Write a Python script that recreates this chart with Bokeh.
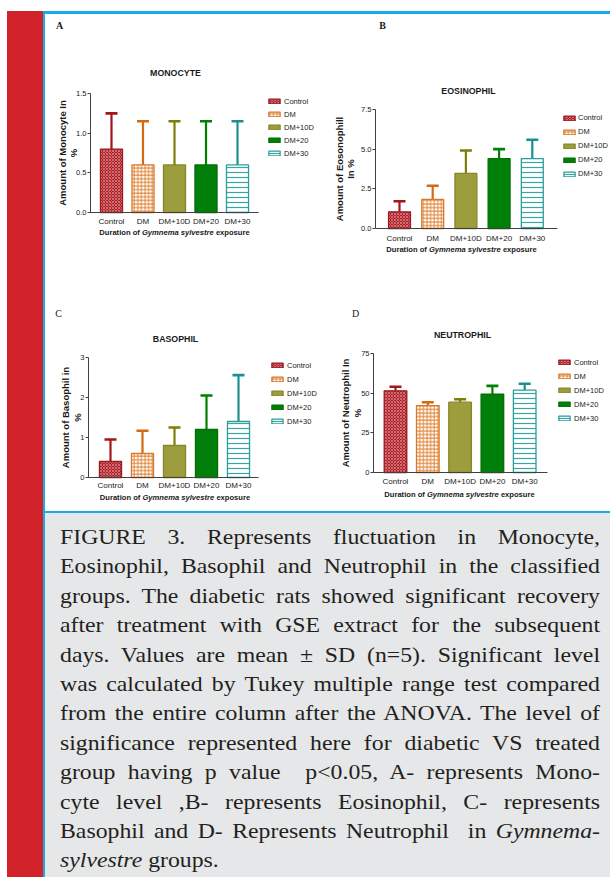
from bokeh.plotting import figure
from bokeh.models import (ColumnDataSource, Range1d, FixedTicker, Whisker, TeeHead,
                          Legend, LegendItem, Label, Div)
from bokeh.layouts import row, column
from bokeh.embed import file_html
from bokeh.resources import INLINE

# ---------------- data ----------------
groups = ["Control", "DM", "DM+10D", "DM+20", "DM+30"]

monocyte_mean = [0.80, 0.60, 0.60, 0.60, 0.60]
monocyte_upper = [1.25, 1.15, 1.15, 1.15, 1.15]

eosinophil_mean = [1.05, 1.83, 3.47, 4.41, 4.41]
eosinophil_upper = [1.72, 2.69, 4.92, 5.00, 5.59]

basophil_mean = [0.40, 0.60, 0.80, 1.20, 1.40]
basophil_upper = [0.95, 1.17, 1.25, 2.05, 2.56]

neutrophil_mean = [51.5, 42.2, 44.3, 49.4, 51.9]
neutrophil_upper = [54.0, 44.3, 46.2, 54.6, 55.9]

monocyte_ticks = [0, 0.5, 1.0, 1.5]
monocyte_tick_labels = ["0.0", "0.5", "1.0", "1.5"]
eosinophil_ticks = [0, 2.5, 5.0, 7.5]
eosinophil_tick_labels = ["0.0", "2.5", "5.0", "7.5"]
basophil_ticks = [0, 1, 2, 3]
basophil_tick_labels = ["0", "1", "2", "3"]
neutrophil_ticks = [0, 25, 50, 75]
neutrophil_tick_labels = ["0", "25", "50", "75"]

caption_lines = [
    "FIGURE 3. Represents fluctuation in Monocyte,",
    "Eosinophil, Basophil and Neutrophil in the classified",
    "groups. The diabetic rats showed significant recovery",
    "after treatment with GSE extract for the subsequent",
    "days. Values are mean \u00b1 SD (n=5). Significant level",
    "was calculated by Tukey multiple range test compared",
    "from the entire column after the ANOVA. The level of",
    "significance represented here for diabetic VS treated",
    "group having p value&nbsp; p&lt;0.05, A- represents Mono-",
    "cyte level ,B- represents Eosinophil, C- represents",
    "Basophil and D- Represents Neutrophil&nbsp; in <i>Gymnema-</i>",
    "<i>sylvestre</i> groups.",
]

# ---------------- styles ----------------
STYLE = {
    "Control": dict(fill_color="#a8232a", hatch_pattern="x", hatch_color="#e58a8f", hatch_scale=3.0,
                    hatch_weight=0.7, line_color="#9b1a20", err="#a3151b"),
    "DM": dict(fill_color="white", hatch_pattern="+", hatch_color="#e08538", hatch_scale=3.6,
               hatch_weight=1.0, line_color="#d9782a", err="#d26a12"),
    "DM+10D": dict(fill_color="#9d9d3e", hatch_pattern=None, hatch_color=None, hatch_scale=12,
                   hatch_weight=1, line_color="#86862a", err="#7d7d0a"),
    "DM+20": dict(fill_color="#00800a", hatch_pattern=None, hatch_color=None, hatch_scale=12,
                  hatch_weight=1, line_color="#006f00", err="#008000"),
    "DM+30": dict(fill_color="white", hatch_pattern="-", hatch_color="#3aa5a5", hatch_scale=5.0,
                  hatch_weight=1.2, line_color="#2a9d9d", err="#1d8f8f"),
}

SANS = "Liberation Sans"
SERIF = "Liberation Serif"
TXT = "#1a1a1a"
AXC = "#404040"

ARIAL_BOLD = {"D": 722, "u": 611, "r": 389, "a": 556, "t": 333, "i": 278, "o": 611, "n": 611,
              " ": 278, "f": 333, "G": 778, "y": 556, "m": 889, "e": 556, "s": 556, "l": 278,
              "v": 556, "x": 556, "p": 611}


def tw(s, size):
    return sum(ARIAL_BOLD.get(ch, 556) for ch in s) / 1000.0 * size


def panel(letter, letter_bold, title, ylabel, means, uppers, ticks, tick_labels, geo):
    X0, Y0, W, H = geo["fig"]
    FL, FR, FT, FB = geo["frame"]
    c0, s = geo["bars"]
    ymax = ticks[-1]

    def xd(px):
        return (px - c0) / s

    def yd(py):
        return (FB - py) / (FB - FT) * ymax

    p = figure(width=W, height=H,
               x_range=Range1d(xd(X0), xd(X0 + W)),
               y_range=Range1d(yd(Y0 + H), yd(Y0)),
               output_backend="svg", toolbar_location=None, min_border=0)
    p.title.visible = False
    p.outline_line_color = None
    p.background_fill_color = "white"
    p.border_fill_color = "white"
    p.xgrid.visible = False
    p.ygrid.visible = False

    xs = list(range(len(groups)))
    items = []
    for i, g in enumerate(groups):
        st = STYLE[g]
        kw = dict(fill_color=st["fill_color"], line_color=st["line_color"], line_width=1.3)
        if st["hatch_pattern"]:
            kw.update(hatch_pattern=st["hatch_pattern"], hatch_color=st["hatch_color"],
                      hatch_scale=st["hatch_scale"], hatch_weight=st["hatch_weight"])
        src = ColumnDataSource(dict(x=[xs[i]], top=[means[i]], upper=[uppers[i]]))
        r = p.vbar(x="x", top="top", bottom=0, width=geo["bar_w"], source=src, **kw)
        w = Whisker(source=src, base="x", lower="top", upper="upper", dimension="height",
                    line_color=st["err"], line_width=2.2, lower_head=None,
                    upper_head=TeeHead(size=12, line_color=st["err"], line_width=2.6))
        p.add_layout(w)
        items.append(LegendItem(label=g, renderers=[r]))

    # x axis (fixed at y = 0, limited to the original frame)
    xa = p.xaxis[0]
    xa.fixed_location = 0
    xa.bounds = (xd(FL), xd(FR))
    xa.ticker = FixedTicker(ticks=xs)
    xa.major_label_overrides = {x: g for x, g in zip(xs, groups)}
    xa.major_tick_out = 0
    xa.major_tick_in = 0
    xa.minor_tick_out = 0
    xa.minor_tick_in = 0
    xa.axis_line_color = AXC
    xa.major_label_text_font = SANS
    xa.major_label_text_font_size = "8px"
    xa.major_label_text_color = TXT
    xa.major_label_standoff = geo["xstand"]

    ya = p.yaxis[0]
    ya.fixed_location = xd(FL)
    ya.bounds = (0, ymax)
    ya.ticker = FixedTicker(ticks=ticks)
    ya.major_label_overrides = {t: l for t, l in zip(ticks, tick_labels)}
    ya.major_tick_out = 3
    ya.major_tick_in = 0
    ya.minor_tick_out = 0
    ya.minor_tick_in = 0
    ya.axis_line_color = AXC
    ya.major_tick_line_color = AXC
    ya.major_label_text_font = SANS
    ya.major_label_text_font_size = "7.5px"
    ya.major_label_text_color = TXT
    ya.major_label_standoff = 1
    ya.axis_label = ylabel
    ya.axis_label_text_font = SANS
    ya.axis_label_text_font_style = "bold"
    ya.axis_label_text_font_size = "9.5px"
    ya.axis_label_text_line_height = geo["ylh"]
    ya.axis_label_text_color = TXT
    ya.axis_label_standoff = geo["ystand"]

    # legend
    lx, lc, sp = geo["legend"]
    n = len(groups)
    lab_h = 9
    leg_h = n * lab_h + (n - 1) * sp
    leg_bottom = lc - lab_h / 2 + leg_h
    legend = Legend(items=items, location=(lx - X0, (Y0 + H) - leg_bottom),
                    glyph_width=14, glyph_height=6, label_height=lab_h, spacing=sp,
                    padding=0, margin=0, border_line_color=None, background_fill_alpha=0,
                    label_text_font=SANS, label_text_font_size="7.5px", label_text_color=TXT,
                    label_standoff=geo.get("lstand", 3))
    p.add_layout(legend)

    # title, panel letter
    tx, ty = geo["title"]
    p.add_layout(Label(x=xd(tx), y=yd(ty), text=title, text_font=SANS, text_font_style="bold",
                       text_font_size="8.8px", text_align="center", text_baseline="middle",
                       text_color=TXT))
    lx_, ly_ = geo["letter"]
    p.add_layout(Label(x=xd(lx_), y=yd(ly_), text=letter, text_font=SERIF,
                       text_font_style="bold" if letter_bold else "normal",
                       text_font_size="10px", text_align="center", text_baseline="middle",
                       text_color=TXT))

    # x-axis title with italic species name (three pieces, words separated explicitly)
    fs = 7.6
    space = tw(" ", fs)
    pieces = [("Duration of", "bold"), ("Gymnema sylvestre", "bold italic"), ("exposure", "bold")]
    cx, cy = geo["xlab"]
    total = sum(tw(t, fs) for t, _ in pieces) + 2 * space
    x0 = cx - total / 2
    for t, style in pieces:
        p.add_layout(Label(x=xd(x0), y=yd(cy), text=t, text_font=SANS, text_font_style=style,
                           text_font_size=f"{fs}px", text_align="left", text_baseline="middle",
                           text_color=TXT))
        x0 += tw(t, fs) + space
    return p


geoA = dict(fig=(45, 14, 282, 281), frame=(90, 258, 93, 212), bars=(111, 31.5), bar_w=0.70,
            xstand=4, ystand=-6, ylh=1.0, legend=(267, 101.3, 4), title=(175, 72), letter=(59, 25),
            xlab=(174, 232))
geoB = dict(fig=(327, 14, 283, 281), frame=(375, 557, 109, 228), bars=(399, 33.2), bar_w=0.66,
            xstand=5, ystand=2, ylh=1.0, legend=(562, 117.5, 5), lstand=2, title=(468, 90),
            letter=(382, 25), xlab=(461, 249))
geoC = dict(fig=(45, 295, 282, 216), frame=(88, 258, 357, 477), bars=(110, 32.0), bar_w=0.69,
            xstand=3, ystand=-6, ylh=1.15, legend=(270, 365, 5), title=(175, 338), letter=(58, 313),
            xlab=(174.5, 497))
geoD = dict(fig=(327, 295, 283, 216), frame=(373, 547, 353, 472), bars=(395, 32.3), bar_w=0.70,
            xstand=4, ystand=-5, ylh=1.15, legend=(557, 362, 5), title=(462, 334), letter=(355, 313),
            xlab=(459, 494))

pA = panel("A", True, "MONOCYTE", "Amount of Monocyte In\n%", monocyte_mean, monocyte_upper,
           monocyte_ticks, monocyte_tick_labels, geoA)
pB = panel("B", True, "EOSINOPHIL", "Amount of Eosonophill\nIn %", eosinophil_mean, eosinophil_upper,
           eosinophil_ticks, eosinophil_tick_labels, geoB)
pC = panel("C", False, "BASOPHIL", "Amount of Basophil in\n%", basophil_mean, basophil_upper,
           basophil_ticks, basophil_tick_labels, geoC)
pD = panel("D", False, "NEUTROPHIL", "Amount of Neutrophil In\n%", neutrophil_mean, neutrophil_upper,
           neutrophil_ticks, neutrophil_tick_labels, geoD)

RED = "#d2232a"
BLUE = "#14aee6"
GREY = "#e6e7e8"

last = len(caption_lines) - 1
line_divs = "".join(
    f'<div style="white-space:nowrap;text-align:{"left" if i == last else "justify"};'
    f'text-align-last:{"left" if i == last else "justify"};">{t}</div>'
    for i, t in enumerate(caption_lines))
caption_html = (f'<div style="box-sizing:border-box;width:500px;margin-left:15px;'
                f'transform:scaleX(1.08);transform-origin:0 0;'
                f'font-family:\'Liberation Serif\',serif;font-size:22px;line-height:29.4px;'
                f'color:#231f20;padding-top:9px;">{line_divs}</div>')

top_strip = Div(text="", width=610, height=11, margin=0, styles={"background-color": "white"})
left_strip = Div(text="", width=7, height=866, margin=0, styles={"background-color": "white"})
red_bar = Div(text="", width=36, height=866, margin=0, styles={"background-color": RED})
vline = Div(text="", width=2, height=866, margin=0, styles={"background-color": BLUE})
hline_top = Div(text="", width=565, height=3, margin=0, styles={"background-color": BLUE})
hline_mid = Div(text="", width=565, height=2, margin=0, styles={"background-color": BLUE})
caption = Div(text=caption_html, width=565, height=364, margin=0,
              styles={"background-color": GREY})

charts = column(row(pA, pB, spacing=0), row(pC, pD, spacing=0), spacing=0)
right = column(hline_top, charts, hline_mid, caption, spacing=0)
main = row(left_strip, red_bar, vline, right, spacing=0)
layout = column(top_strip, main, spacing=0)

open("out.html", "w").write(file_html(layout, INLINE))
